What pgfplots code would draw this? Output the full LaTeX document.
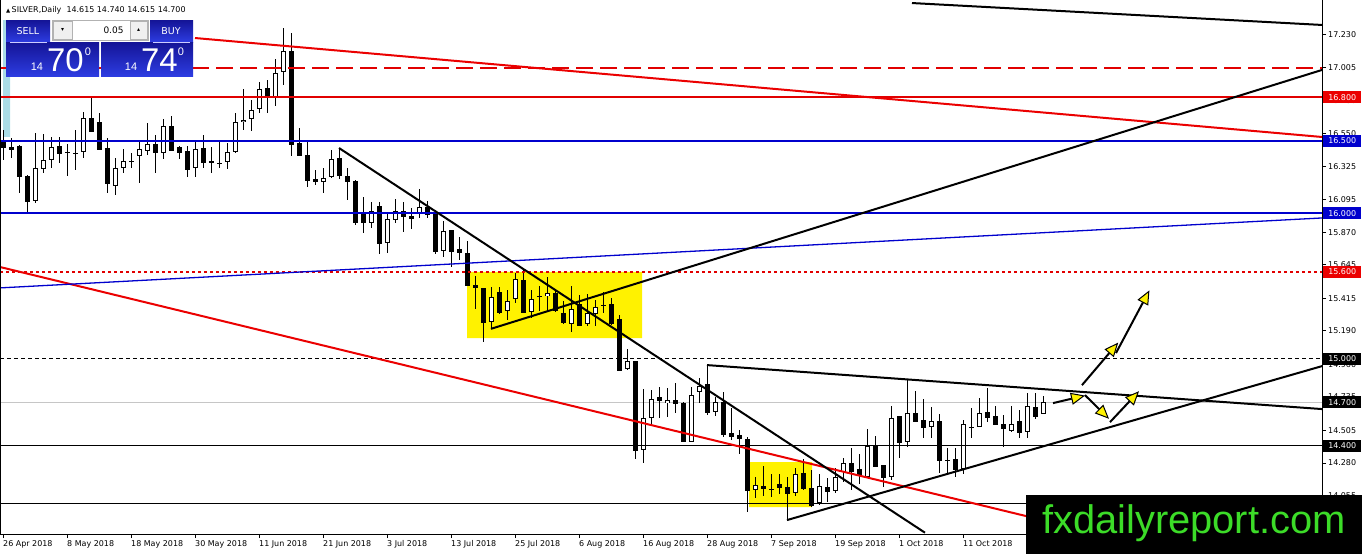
\documentclass[border=0pt]{standalone}
\usepackage{fontspec}
\setmainfont{DejaVu Sans}
\newfontfamily\lib{Liberation Sans}
\usepackage{pgfplots}
\pgfplotsset{compat=1.18}
\usepackage{pgfplotstable}
\usetikzlibrary{arrows.meta}
\definecolor{mtred}{RGB}{235,0,0}
\definecolor{lvred}{RGB}{225,0,0}
\definecolor{mtblue}{RGB}{0,0,205}
\definecolor{wm}{RGB}{60,220,40}
\definecolor{strip}{RGB}{170,220,230}
\definecolor{btntop}{RGB}{20,20,150}
\definecolor{btnbot}{RGB}{45,60,225}

\pgfplotstableread{
i o h l c
0 16.492 16.575 16.369 16.451
1 16.458 16.520 16.382 16.437
2 16.465 16.472 16.141 16.251
3 16.258 16.265 16.003 16.079
4 16.086 16.555 16.072 16.313
5 16.307 16.548 16.279 16.369
6 16.369 16.527 16.313 16.458
7 16.465 16.527 16.348 16.410
8 16.424 16.479 16.258 16.420
9 16.417 16.575 16.300 16.414
10 16.424 16.699 16.382 16.658
11 16.658 16.796 16.562 16.562
12 16.630 16.692 16.437 16.437
13 16.451 16.520 16.141 16.203
14 16.189 16.382 16.127 16.313
15 16.313 16.444 16.279 16.362
16 16.362 16.417 16.313 16.358
17 16.396 16.499 16.210 16.444
18 16.431 16.624 16.403 16.479
19 16.479 16.541 16.279 16.417
20 16.417 16.651 16.375 16.603
21 16.603 16.672 16.431 16.431
22 16.458 16.465 16.375 16.417
23 16.431 16.465 16.251 16.300
24 16.313 16.506 16.251 16.444
25 16.451 16.541 16.313 16.348
26 16.362 16.458 16.279 16.348
27 16.348 16.492 16.313 16.344
28 16.355 16.486 16.307 16.424
29 16.424 16.692 16.417 16.630
30 16.630 16.858 16.575 16.644
31 16.651 16.782 16.568 16.713
32 16.720 16.906 16.692 16.858
33 16.865 16.920 16.692 16.796
34 16.803 17.064 16.741 16.968
35 16.975 17.278 16.885 17.120
36 17.120 17.244 16.396 16.472
37 16.486 16.589 16.396 16.396
38 16.403 16.506 16.182 16.224
39 16.237 16.300 16.196 16.217
40 16.217 16.313 16.141 16.244
41 16.251 16.437 16.244 16.375
42 16.382 16.451 16.237 16.258
43 16.258 16.313 16.093 16.217
44 16.224 16.231 15.921 15.935
45 16.003 16.114 15.866 15.935
46 15.935 16.079 15.900 16.017
47 16.052 16.079 15.721 15.790
48 15.797 16.003 15.728 15.962
49 15.955 16.100 15.935 16.017
50 16.017 16.079 15.873 15.976
51 15.983 16.038 15.893 15.962
52 16.003 16.169 15.969 16.045
53 16.045 16.086 15.969 15.990
54 16.003 16.024 15.721 15.735
55 15.742 15.948 15.700 15.879
56 15.886 15.886 15.631 15.735
57 15.755 15.838 15.680 15.728
58 15.728 15.810 15.500 15.500
59 15.507 15.569 15.341 15.487
60 15.487 15.487 15.114 15.245
61 15.251 15.493 15.210 15.425
62 15.459 15.493 15.307 15.313
63 15.327 15.473 15.265 15.396
64 15.410 15.590 15.382 15.549
65 15.542 15.611 15.313 15.313
66 15.320 15.473 15.279 15.410
67 15.431 15.500 15.327 15.428
68 15.431 15.562 15.320 15.452
69 15.452 15.473 15.320 15.327
70 15.313 15.396 15.238 15.245
71 15.238 15.500 15.183 15.341
72 15.375 15.438 15.224 15.224
73 15.238 15.445 15.224 15.313
74 15.307 15.403 15.224 15.355
75 15.369 15.459 15.313 15.365
76 15.375 15.418 15.231 15.238
77 15.272 15.300 14.914 14.914
78 14.928 15.065 14.921 14.983
79 14.983 14.983 14.307 14.362
80 14.369 14.790 14.280 14.590
81 14.590 14.783 14.542 14.721
82 14.735 14.803 14.590 14.707
83 14.693 14.797 14.597 14.714
84 14.714 14.831 14.624 14.686
85 14.693 14.700 14.425 14.425
86 14.425 14.803 14.425 14.748
87 14.769 14.865 14.693 14.810
88 14.824 14.955 14.611 14.624
89 14.631 14.735 14.604 14.700
90 14.700 14.769 14.459 14.473
91 14.487 14.659 14.438 14.459
92 14.473 14.507 14.342 14.445
93 14.445 14.459 13.942 14.087
94 14.094 14.183 14.039 14.128
95 14.121 14.259 14.052 14.101
96 14.101 14.204 14.045 14.097
97 14.135 14.204 14.066 14.108
98 14.115 14.183 13.887 14.066
99 14.073 14.245 14.052 14.204
100 14.211 14.307 14.094 14.101
101 14.108 14.232 13.977 13.984
102 14.004 14.204 13.990 14.121
103 14.115 14.176 14.011 14.080
104 14.087 14.245 14.073 14.183
105 14.218 14.314 14.149 14.280
106 14.280 14.383 14.094 14.218
107 14.239 14.342 14.135 14.190
108 14.183 14.514 14.183 14.397
109 14.397 14.466 14.252 14.252
110 14.266 14.266 14.115 14.176
111 14.183 14.673 14.163 14.590
112 14.604 14.604 14.314 14.418
113 14.425 14.859 14.390 14.624
114 14.624 14.776 14.562 14.562
115 14.576 14.721 14.452 14.521
116 14.528 14.666 14.452 14.569
117 14.569 14.618 14.211 14.294
118 14.301 14.383 14.211 14.297
119 14.307 14.383 14.183 14.232
120 14.239 14.576 14.204 14.549
121 14.528 14.659 14.452 14.524
122 14.528 14.728 14.528 14.624
123 14.631 14.797 14.562 14.590
124 14.604 14.673 14.542 14.542
125 14.549 14.611 14.390 14.514
126 14.500 14.673 14.493 14.549
127 14.569 14.645 14.452 14.487
128 14.493 14.762 14.452 14.673
129 14.666 14.762 14.583 14.597
130 14.615 14.740 14.615 14.700
}\candles

\begin{document}
\begin{tikzpicture}
\useasboundingbox (0,0) rectangle (1362bp,-554bp);
\begin{axis}[
  at={(0,0)}, anchor=north west,
  scale only axis, width=1322bp, height=534bp,
  xmin=-0.375, xmax=164.875, ymin=13.791, ymax=17.471,
  axis x line*=bottom, axis y line*=right,
  xtick pos=bottom, ytick pos=right,
  axis line style={black, line width=1bp},
  tick align=outside, major tick length=4bp,
  tick style={black, line width=1bp},
  xtick={0,8,...,120},
  xticklabels={26 Apr 2018, 8 May 2018, 18 May 2018, 30 May 2018, 11 Jun 2018, 21 Jun 2018, 3 Jul 2018, 13 Jul 2018, 25 Jul 2018, 6 Aug 2018, 16 Aug 2018, 28 Aug 2018, 7 Sep 2018, 19 Sep 2018, 1 Oct 2018, 11 Oct 2018},
  ytick={17.230,17.005,16.780,16.550,16.325,16.095,15.870,15.645,15.415,15.190,14.960,14.735,14.505,14.280,14.055},
  yticklabels={17.230,17.005,16.780,16.550,16.325,16.095,15.870,15.645,15.415,15.190,14.960,14.735,14.505,14.280,14.055},
  tick label style={font=\fontsize{8}{9.5}\selectfont, inner sep=0pt},
  xticklabel style={anchor=north west, yshift=-2bp},
  yticklabel style={anchor=west, xshift=2bp},
  clip mode=individual,
]
% background objects
\addplot[forget plot, fill=yellow, draw=none] coordinates {(58,15.597) (79.875,15.597) (79.875,15.141) (58,15.141) (58,15.597)};
\addplot[forget plot, fill=yellow, draw=none] coordinates {(93.25,14.287) (101.125,14.287) (101.125,13.977) (93.25,13.977) (93.25,14.287)};
\addplot[forget plot, fill=strip, draw=none] coordinates {(0,17.333) (0.875,17.333) (0.875,16.527) (0,16.527) (0,17.333)};
\addplot[forget plot, draw=gray!45, line width=1bp] coordinates {(-0.375,14.700) (164.875,14.700)};
% wicks
\addplot[forget plot, draw=none, mark=none,
  error bars/.cd, y dir=both, y explicit, error mark=none,
  error bar style={draw=black, line width=1bp}]
  table[x=i, y expr={(\thisrow{h}+\thisrow{l})/2}, y error expr={(\thisrow{h}-\thisrow{l})/2}] {\candles};
% bodies (black)
\addplot[forget plot, draw=none, mark=none,
  error bars/.cd, y dir=both, y explicit, error mark=none,
  error bar style={draw=black, line width=5bp}]
  table[x=i, y expr={(\thisrow{o}+\thisrow{c})/2}, y error expr={max(abs(\thisrow{c}-\thisrow{o})/2,0.0035)}] {\candles};
% bodies (white inside for rising days)
\addplot[forget plot, draw=none, mark=none,
  error bars/.cd, y dir=both, y explicit, error mark=none,
  error bar style={draw=white, line width=3bp}]
  table[x=i, y expr={(\thisrow{o}+\thisrow{c})/2}, y error expr={max((\thisrow{c}-\thisrow{o})/2-0.0069,0)}] {\candles};
% horizontal levels
\addplot[forget plot, draw=lvred, line width=2bp, dash pattern=on 17bp off 7bp] coordinates {(-0.375,17.005) (164.875,17.005)};
\addplot[forget plot, draw=lvred, line width=2bp] coordinates {(-0.375,16.800) (164.875,16.800)};
\addplot[forget plot, draw=mtblue, line width=1.3bp] coordinates {(-0.375,16.500) (164.875,16.500)};
\addplot[forget plot, draw=mtblue, line width=2bp] coordinates {(-0.375,16.000) (164.875,16.000)};
\addplot[forget plot, draw=lvred, line width=2bp, dash pattern=on 3bp off 3bp] coordinates {(-0.375,15.600) (164.875,15.600)};
\addplot[forget plot, draw=black, line width=1bp, dash pattern=on 4bp off 3bp] coordinates {(-0.375,15.000) (164.875,15.000)};
\addplot[forget plot, draw=black, line width=1bp] coordinates {(-0.375,14.400) (164.875,14.400)};
\addplot[forget plot, draw=black, line width=1bp] coordinates {(-0.375,14.000) (164.875,14.000)};
% trend lines
\addplot[forget plot, draw=mtred, line width=2bp] coordinates {(24,17.209) (164.875,16.527)};
\addplot[forget plot, draw=mtred, line width=2bp] coordinates {(-0.375,15.631) (128.375,13.908)};
\addplot[forget plot, draw=mtblue, line width=1.3bp] coordinates {(-0.375,15.487) (164.875,15.969)};
\addplot[forget plot, draw=black, line width=2bp] coordinates {(61,15.205) (164.875,16.989)};
\addplot[forget plot, draw=black, line width=2bp] coordinates {(42,16.451) (115.25,13.80)};
\addplot[forget plot, draw=black, line width=2bp] coordinates {(88,14.955) (164.875,14.652)};
\addplot[forget plot, draw=black, line width=2bp] coordinates {(98,13.887) (164.875,14.948)};
\addplot[forget plot, draw=black, line width=2bp] coordinates {(113.625,17.450) (164.875,17.299)};
% scenario arrows
\tikzset{yarr/.style={draw=black, line width=2bp, -{Triangle[length=14bp,width=12bp,fill=yellow,line width=1bp]}}}
\addplot[forget plot, yarr] coordinates {(131.25,14.693) (135.25,14.745)};
\addplot[forget plot, yarr] coordinates {(135.25,14.748) (138.25,14.585)};
\addplot[forget plot, yarr] coordinates {(138.375,14.562) (142,14.775)};
\addplot[forget plot, yarr] coordinates {(134.875,14.817) (139.4,15.110)};
\addplot[forget plot, yarr] coordinates {(139.125,15.038) (143.3,15.470)};
% left border
\draw[black, line width=1bp] (rel axis cs:0,0) -- (rel axis cs:0,1);
% price tags
\tikzset{tag/.style={anchor=west, xshift=1bp, inner sep=0pt, minimum height=12bp, minimum width=38bp, text=white, font=\fontsize{8}{9.5}\selectfont}}
\node[tag, fill=mtred] at (axis cs:164.875,16.800) {16.800};
\node[tag, fill=mtblue] at (axis cs:164.875,16.500) {16.500};
\node[tag, fill=mtblue] at (axis cs:164.875,16.000) {16.000};
\node[tag, fill=mtred] at (axis cs:164.875,15.600) {15.600};
\node[tag, fill=black] at (axis cs:164.875,15.000) {15.000};
\node[tag, fill=black] at (axis cs:164.875,14.700) {14.700};
\node[tag, fill=black] at (axis cs:164.875,14.400) {14.400};
\end{axis}
% header and trading panel
\node[anchor=west, inner sep=0pt, font=\fontsize{8}{9.5}\selectfont] at (6bp,-10bp) {{\fontsize{5.5}{6}\selectfont ▲}\,SILVER,Daily\ \ 14.615 14.740 14.615 14.700};
\shade[top color=btntop, bottom color=btnbot] (6bp,-20bp) rectangle (50bp,-42bp);
\shade[top color=btntop, bottom color=btnbot] (150bp,-20bp) rectangle (193bp,-42bp);
\node[text=white, font=\fontsize{9.5}{11}\selectfont] at (28bp,-31bp) {SELL};
\node[text=white, font=\fontsize{9.5}{11}\selectfont] at (171bp,-31bp) {BUY};
\draw[gray!60, fill=white] (52bp,-20bp) rectangle (148bp,-40bp);
\draw[gray!60, fill=gray!12] (53bp,-21bp) rectangle (72bp,-39bp);
\draw[gray!60, fill=gray!12] (130bp,-21bp) rectangle (147bp,-39bp);
\node[font=\fontsize{6}{7}\selectfont] at (62.5bp,-30bp) {▾};
\node[font=\fontsize{6}{7}\selectfont] at (138.5bp,-30bp) {▴};
\node[anchor=east, font=\fontsize{9}{11}\selectfont] at (127bp,-30bp) {0.05};
\shade[top color=btntop, bottom color=btnbot] (6bp,-42bp) rectangle (99bp,-76bp);
\shade[top color=btntop, bottom color=btnbot] (101bp,-42bp) rectangle (193bp,-76bp);
\draw[white!80!blue, line width=0.8bp] (10bp,-42bp) -- (47bp,-42bp);
\draw[white!80!blue, line width=0.8bp] (153bp,-42bp) -- (190bp,-42bp);
\node[text=white, font=\lib\fontsize{11}{12}\selectfont, anchor=base] at (37bp,-70bp) {14};
\node[text=white, font=\lib\fontsize{33}{34}\selectfont, anchor=base west, inner sep=0pt] at (47bp,-71bp) {70};
\node[text=white, font=\lib\fontsize{11}{12}\selectfont, anchor=base] at (88bp,-55bp) {0};
\node[text=white, font=\lib\fontsize{11}{12}\selectfont, anchor=base] at (131bp,-70bp) {14};
\node[text=white, font=\lib\fontsize{33}{34}\selectfont, anchor=base west, inner sep=0pt] at (141bp,-71bp) {74};
\node[text=white, font=\lib\fontsize{11}{12}\selectfont, anchor=base] at (181bp,-55bp) {0};
% watermark
\fill[black] (1026bp,-495bp) rectangle (1362bp,-554bp);
\node[anchor=base, text=wm, inner sep=0pt, font=\lib\fontsize{40}{40}\selectfont] at (1194bp,-533bp) {fxdailyreport.com};
\end{tikzpicture}
\end{document}
